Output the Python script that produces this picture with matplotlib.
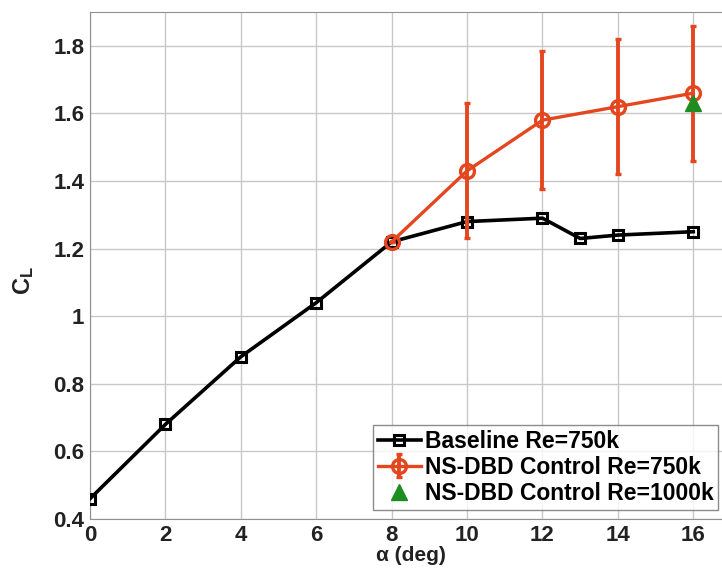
import matplotlib.pyplot as plt
import numpy as np

plt.rcParams['font.family'] = ['Liberation Sans', 'DejaVu Sans']
plt.rcParams['font.weight'] = 'bold'
plt.rcParams['axes.labelweight'] = 'bold'
plt.rcParams['mathtext.fontset'] = 'custom'
plt.rcParams['mathtext.rm'] = 'Liberation Sans:bold'
plt.rcParams['mathtext.bf'] = 'Liberation Sans:bold'
plt.rcParams['mathtext.default'] = 'bf'

# baseline, Re = 750k
alpha_base = [0, 2, 4, 6, 8, 10, 12, 13, 14, 16]
cl_base = [0.46, 0.68, 0.88, 1.04, 1.22, 1.28, 1.29, 1.23, 1.24, 1.25]

# NS-DBD control, Re = 750k
alpha_ctrl = [8, 10, 12, 14, 16]
cl_ctrl = [1.22, 1.43, 1.58, 1.62, 1.66]
err_ctrl = [0.0, 0.20, 0.205, 0.20, 0.20]

# NS-DBD control, Re = 1000k
alpha_hi = [16]
cl_hi = [1.63]

red = '#E4471F'

fig = plt.figure(figsize=(7.22, 5.77), dpi=100)
ax = fig.add_axes([90 / 722, 1 - 519 / 577, 641 / 722, 507 / 577])

h1, = ax.plot(alpha_base, cl_base, '-s', color='black', lw=2.6, ms=7,
              mfc='none', mew=2.2, label='Baseline Re=750k', zorder=3)
h2 = ax.errorbar(alpha_ctrl, cl_ctrl, yerr=err_ctrl, fmt='-o', color=red,
                 lw=2.4, ms=10, mfc='none', mew=2.4, elinewidth=2.8, capsize=2,
                 capthick=2, label='NS-DBD Control Re=750k', zorder=4)
h3, = ax.plot(alpha_hi, cl_hi, '^', color='#1E8C1E', ms=12, ls='none',
              label='NS-DBD Control Re=1000k', zorder=5)

ax.set_xlim(0, 17)
ax.set_ylim(0.4, 1.9)
ax.set_xticks(np.arange(0, 17, 2))
ax.set_yticks([0.4, 0.6, 0.8, 1.0, 1.2, 1.4, 1.6, 1.8])
ax.set_yticklabels(['0.4', '0.6', '0.8', '1', '1.2', '1.4', '1.6', '1.8'])
ax.grid(True, color='#c8c8c8', lw=1.0)
ax.set_axisbelow(True)
for s in ax.spines.values():
    s.set_color('#909090')
ax.tick_params(length=0, labelsize=16, pad=4, colors='#222222')

ax.set_xlabel('α (deg)', fontsize=15, labelpad=0, color='#222222')
ax.set_ylabel(r'C$_L$', fontsize=17, color='#222222')
ax.yaxis.set_label_coords(-0.085, 0.47)

leg = ax.legend([h1, h2, h3], [h1.get_label(), h2.get_label(), h3.get_label()],
                loc='lower left', bbox_to_anchor=(373 / 722, 1 - 510 / 577),
                bbox_transform=fig.transFigure, fontsize=16.5, frameon=True,
                fancybox=False, edgecolor='#707070', handlelength=1.9,
                handletextpad=0.15, borderpad=0.2, labelspacing=0.15,
                borderaxespad=0)
leg.get_frame().set_linewidth(1.0)

fig.savefig('out.png', dpi=100)
